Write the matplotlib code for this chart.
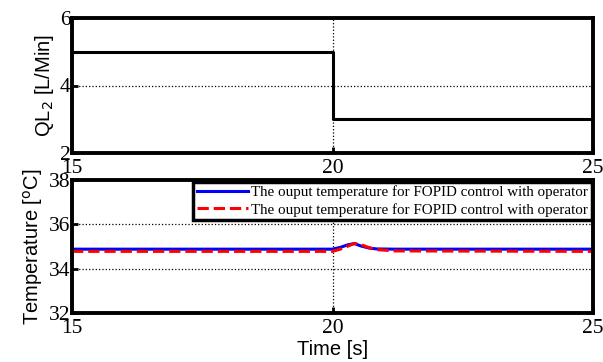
import matplotlib.pyplot as plt

# Расход QL2 (ступенька в t = 20 с)
t_flow = [15, 20, 20, 25]
q_flow = [5, 5, 3, 3]

# Температура на выходе: две реакции на ступеньку
t_temp = [15, 20.0, 20.15, 20.3, 20.42, 20.55, 20.7, 20.85, 21.2, 25]
y_blue = [34.88, 34.88, 34.96, 35.08, 35.13, 35.02, 34.93, 34.89, 34.88, 34.88]
y_red = [34.78, 34.78, 34.88, 35.02, 35.14, 35.08, 34.95, 34.86, 34.80, 34.78]

legend_labels = ["The ouput temperature for FOPID control with operator",
                 "The ouput temperature for FOPID control with operator"]

TICK_FONT = {"family": "Liberation Serif", "size": 15.5}
LABEL_FONT = {"family": "Liberation Sans", "size": 14.5}

fig = plt.figure(figsize=(6.03, 3.62), dpi=100)
ax1 = fig.add_axes([72 / 603, 1 - 153 / 362, 521 / 603, 135 / 362])
ax2 = fig.add_axes([72 / 603, 1 - 313 / 362, 521 / 603, 133 / 362])


def style_axes(ax, yticks):
    ax.set_xlim(15, 25)
    ax.set_xticks([15, 20, 25])
    ax.set_yticks(yticks)
    ax.set_ylim(yticks[0], yticks[-1])
    ax.grid(True, color="k", linestyle=":", linewidth=0.9)
    ax.tick_params(direction="in", length=4, width=2, pad=1)
    ax.tick_params(axis="x", pad=4)
    for lbl in ax.get_xticklabels() + ax.get_yticklabels():
        lbl.set_fontfamily(TICK_FONT["family"])
        lbl.set_fontsize(TICK_FONT["size"])
    for sp in ax.spines.values():
        sp.set_linewidth(2.8)


ax1.plot(t_flow, q_flow, color="k", linewidth=2.2)
style_axes(ax1, [2, 4, 6])
ax1.set_ylabel("QL$_2$ [L/Min]", **LABEL_FONT, labelpad=3)

ax2.plot(t_temp, y_blue, color="b", linewidth=2.2, label=legend_labels[0])
ax2.plot(t_temp, y_red, color="r", linewidth=2.2, linestyle="--", label=legend_labels[1])
style_axes(ax2, [32, 34, 36, 38])
ax2.set_ylabel("Temperature [$^{\\rm o}$C]", **LABEL_FONT, labelpad=3)
ax2.set_xlabel("Time [s]", **LABEL_FONT, labelpad=2)

leg = ax2.legend(loc="upper right", prop={"family": "Liberation Serif", "size": 10.8},
                 frameon=True, fancybox=False, borderpad=0.25, handlelength=3.4,
                 handletextpad=0.2, labelspacing=0.25, borderaxespad=0.1)
leg.get_frame().set_edgecolor("k")
leg.get_frame().set_linewidth(2.5)
leg.get_frame().set_alpha(1)

fig.savefig("out.png", dpi=100)
